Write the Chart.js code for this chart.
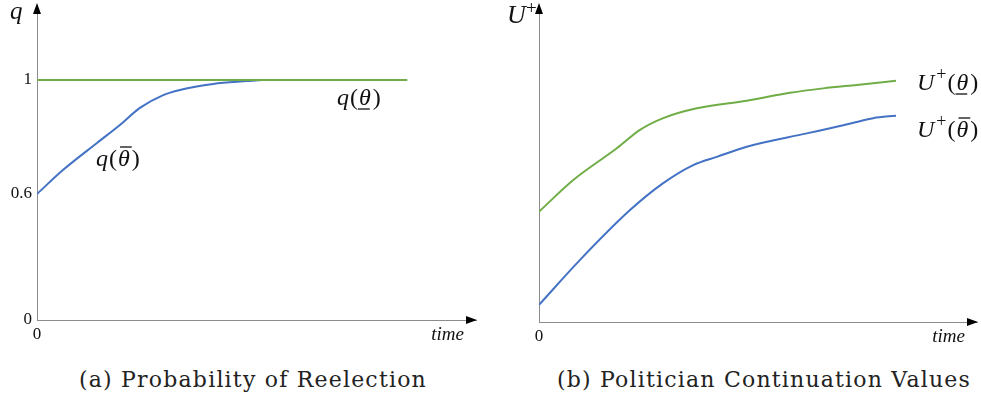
<!DOCTYPE html>
<html>
<head>
<meta charset="utf-8">
<script src="https://cdn.jsdelivr.net/npm/chart.js@4/dist/chart.umd.min.js"></script>
<style>
  body { margin:0; background:#fff; width:981px; height:401px; overflow:hidden; position:relative; }
  .box { position:absolute; top:0; height:350px; }
  .cap { position:absolute; top:367px; font-family:"DejaVu Serif", serif; font-size:22px; letter-spacing:1.2px; color:#222; white-space:nowrap; transform:translateX(-50%); }
</style>
</head>
<body>
<div class="box" style="left:0;width:490px"><canvas id="chartA"></canvas></div>
<div class="box" style="left:490px;width:491px"><canvas id="chartB"></canvas></div>
<div class="cap" style="left:253px">(a) Probability of Reelection</div>
<div class="cap" style="left:764px">(b) Politician Continuation Values</div>
<script>
// (a) reelection probability, time runs 0..10 along the drawn curves
const timeA   = [0, 0.7, 1.62, 2.24, 2.78, 3.41, 3.86, 4.76, 5.68, 6.1, 10];
const qLow    = [0.6, 0.684, 0.779, 0.842, 0.902, 0.947, 0.965, 0.986, 0.996, 1, 1];
const timeHiA = [0, 10];
const qHigh   = [1, 1];
const yTicksA = [0.6, 1];
const yBottomA = 0.158;   // the axis is broken: its foot is labelled 0

// (b) continuation values (arbitrary units)
const timeUHigh = [0, 0.96, 2.18, 2.83, 3.48, 4.42, 5.82, 7.03, 7.96, 8.9, 10];
const uHigh     = [34.8, 44.8, 54.8, 60.6, 64.3, 67.4, 69.8, 72.3, 73.7, 74.8, 76.1];
const timeULow  = [0, 1.15, 2.55, 3.48, 4.32, 4.98, 5.82, 7.5, 8.43, 9.36, 10];
const uLow      = [5.4, 19.6, 35.3, 43.8, 49.5, 52.1, 55.3, 59.5, 61.8, 64.3, 65.1];

const GREEN = '#70ad47', BLUE = '#4472c4', AXIS = '#8c8c8c';
const serif = '"Liberation Serif", serif';
const pts = (xs, ys) => xs.map((x, i) => ({x, y: ys[i]}));

function lineSet(data, color, order){
  return { data, borderColor: color, borderWidth: 2, pointRadius: 0, fill: false, order,
           cubicInterpolationMode: 'monotone' };
}

// italic label like q(θ̄) or U⁺(θ̲)
function mathLabel(ctx, x, y, base, sup, bar){
  const f = 'italic 24px ' + serif;
  ctx.save();
  ctx.fillStyle = '#111';
  ctx.strokeStyle = '#111';
  ctx.textBaseline = 'alphabetic';
  ctx.font = f;
  ctx.fillText(base, x, y); x += ctx.measureText(base).width + 1;
  if (sup){
    ctx.font = '18px ' + serif;
    ctx.fillText('+', x + 1, y - 10); x += ctx.measureText('+').width + 2;
  }
  ctx.font = '24px ' + serif;
  ctx.fillText('(', x, y); x += ctx.measureText('(').width + 1;
  ctx.font = f;
  const w = ctx.measureText('θ').width;
  ctx.fillText('θ', x, y);
  ctx.lineWidth = 1.3;
  ctx.beginPath();
  if (bar === 'over'){ ctx.moveTo(x + 2, y - 19); ctx.lineTo(x + w + 2, y - 19); }
  else { ctx.moveTo(x - 1, y + 4); ctx.lineTo(x + w - 1, y + 4); }
  ctx.stroke();
  x += w + 2;
  ctx.font = '24px ' + serif;
  ctx.fillText(')', x, y);
  ctx.restore();
}

function arrows(ctx, a){
  ctx.save();
  ctx.fillStyle = '#000';
  ctx.beginPath();
  ctx.moveTo(a.left, a.top - 2); ctx.lineTo(a.left - 4, a.top + 9); ctx.lineTo(a.left + 4, a.top + 9);
  ctx.fill();
  ctx.beginPath();
  ctx.moveTo(a.right + 1, a.bottom); ctx.lineTo(a.right - 10, a.bottom - 4); ctx.lineTo(a.right - 10, a.bottom + 4);
  ctx.fill();
  ctx.font = 'italic 19px ' + serif;
  ctx.fillStyle = '#111';
  ctx.textAlign = 'right';
  ctx.fillText('time', a.right - 12, a.bottom + 20);
  ctx.restore();
}

const decoA = { id: 'decoA', afterDraw(c){
  const ctx = c.ctx, a = c.chartArea;
  arrows(ctx, a);
  ctx.save();
  ctx.font = 'italic 25px ' + serif; ctx.fillStyle = '#111';
  ctx.fillText('q', 10, 19);
  ctx.restore();
  mathLabel(ctx, 96, 166, 'q', false, 'over');
  mathLabel(ctx, 337, 105, 'q', false, 'under');
}};

const decoB = { id: 'decoB', afterDraw(c){
  const ctx = c.ctx, a = c.chartArea;
  arrows(ctx, a);
  ctx.save();
  ctx.font = 'italic 26px ' + serif; ctx.fillStyle = '#111';
  ctx.fillText('U', 17, 23);
  ctx.font = '19px ' + serif; ctx.fillText('+', 36, 14);
  ctx.restore();
  mathLabel(ctx, 427, 90, 'U', true, 'under');
  mathLabel(ctx, 427, 137, 'U', true, 'over');
}};

const tickFont = { family: serif, size: 17 };
const noPadY = s => { s.paddingTop = 0; s.paddingBottom = 0; };
const noPadX = s => { s.paddingLeft = 0; s.paddingRight = 0; };

new Chart(document.getElementById('chartA'), {
  type: 'line',
  data: { datasets: [ lineSet(pts(timeA, qLow), BLUE, 2), lineSet(pts(timeHiA, qHigh), GREEN, 1) ] },
  options: {
    responsive: true, maintainAspectRatio: false, animation: false,
    layout: { padding: { top: 5, right: 14, left: 0, bottom: 0 } },
    plugins: { legend: { display: false }, tooltip: { enabled: false } },
    scales: {
      x: { type: 'linear', min: 0, max: 11.86,
           grid: { display: false, drawTicks: false },
           border: { display: true, color: AXIS, width: 1 },
           afterBuildTicks: s => { s.ticks = [{ value: 0 }]; },
           afterFit: s => { s.height = 30; noPadX(s); },
           ticks: { color: '#111', font: tickFont, padding: 4, callback: () => '0' } },
      y: { type: 'linear', min: yBottomA, max: 1.263,
           grid: { display: false, drawTicks: false },
           border: { display: true, color: AXIS, width: 1 },
           afterBuildTicks: s => { s.ticks = [{ value: yBottomA }].concat(yTicksA.map(v => ({ value: v }))); },
           afterFit: s => { s.width = 37; noPadY(s); },
           ticks: { color: '#111', font: tickFont, padding: 5,
                    callback: v => v === yBottomA ? '0' : String(v) } }
    }
  },
  plugins: [decoA]
});

new Chart(document.getElementById('chartB'), {
  type: 'line',
  data: { datasets: [ lineSet(pts(timeUHigh, uHigh), GREEN, 1), lineSet(pts(timeULow, uLow), BLUE, 2) ] },
  options: {
    responsive: true, maintainAspectRatio: false, animation: false,
    layout: { padding: { top: 5, right: 4, left: 0, bottom: 0 } },
    plugins: { legend: { display: false }, tooltip: { enabled: false } },
    scales: {
      x: { type: 'linear', min: 0, max: 12.27,
           grid: { display: false, drawTicks: false },
           border: { display: true, color: AXIS, width: 1 },
           afterBuildTicks: s => { s.ticks = [{ value: 0 }]; },
           afterFit: s => { s.height = 28; noPadX(s); },
           ticks: { color: '#111', font: tickFont, padding: 4, callback: () => '0' } },
      y: { type: 'linear', min: 0, max: 100,
           grid: { display: false, drawTicks: false },
           border: { display: true, color: AXIS, width: 1 },
           afterFit: s => { s.width = 49; noPadY(s); },
           ticks: { display: false } }
    }
  },
  plugins: [decoB]
});
</script>
</body>
</html>
